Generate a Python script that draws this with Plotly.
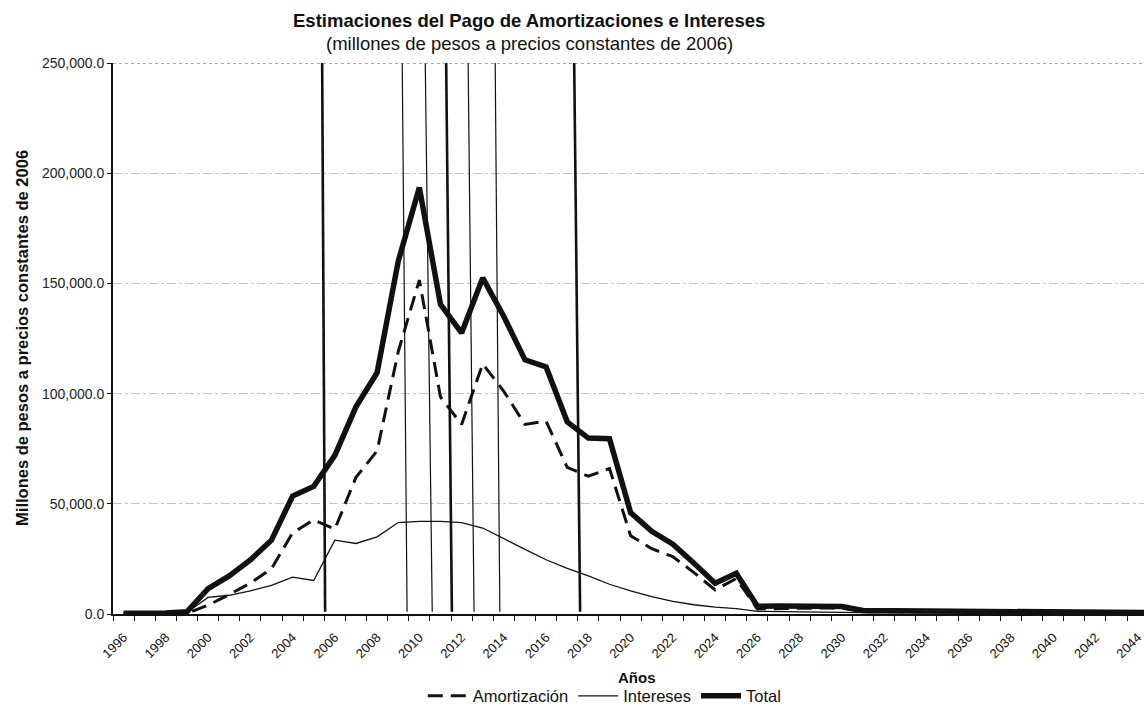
import plotly.graph_objects as go

# ---- data ----
years = list(range(1996, 2046))

amortizacion = [100, 100, 200, 300, 4000, 8800, 14000, 20500, 36800, 42700,
                38500, 62000, 74000, 119000, 151500, 98500, 86000, 113500, 101000, 86000,
                87500, 66500, 62500, 66000, 35500, 29600, 26000, 18800, 10900, 16100,
                2300, 2600, 2600, 2700, 2700, 1000, 1000, 1000, 970, 950,
                950, 950, 920, 930, 920, 930, 920, 400, 400, 400]

intereses = [200, 200, 300, 700, 7500, 8500, 10500, 13000, 16700, 15200,
             33500, 32000, 35000, 41500, 42000, 42000, 41500, 39000, 34000, 29300,
             24600, 20700, 17300, 13500, 10500, 7900, 5700, 4200, 3100, 2400,
             1200, 1000, 900, 800, 700, 600, 550, 500, 480, 450,
             420, 400, 380, 350, 330, 300, 280, 250, 220, 200]

total = [300, 300, 500, 1000, 11500, 17300, 24500, 33500, 53500, 57900,
         72000, 94000, 109500, 160000, 193500, 140500, 127500, 152500, 135000, 115300,
         112100, 87200, 79800, 79500, 46000, 37500, 31700, 23000, 14000, 18500,
         3500, 3600, 3500, 3500, 3400, 1600, 1550, 1500, 1450, 1400,
         1370, 1350, 1300, 1280, 1250, 1230, 1200, 650, 620, 600]

tick_years = list(range(1996, 2045, 2))
tick_text = [str(y) for y in tick_years]

# scan artefacts (vertical lines) seen on the reference: (x at top, x at bottom, width)
scan_lines = [(2005.40, 2005.54, 2.6), (2009.19, 2009.42, 1.2), (2010.28, 2010.61, 1.2),
              (2011.27, 2011.54, 2.6), (2012.31, 2012.59, 1.2), (2013.59, 2013.81, 1.2),
              (2017.33, 2017.61, 2.6)]

FONT = "Arial, 'Liberation Sans', Helvetica, sans-serif"
INK = "#111111"

fig = go.Figure()
fig.add_trace(go.Scatter(x=years, y=amortizacion, name="Amortización", mode="lines",
                         line=dict(color=INK, width=3, dash="15px,8px")))
fig.add_trace(go.Scatter(x=years, y=intereses, name="Intereses", mode="lines",
                         line=dict(color=INK, width=1.3)))
fig.add_trace(go.Scatter(x=years, y=total, name="Total", mode="lines",
                         line=dict(color=INK, width=5.5)))

shapes = []
for x_top, x_bot, w in scan_lines:
    shapes.append(dict(type="line", xref="x", yref="paper", x0=x_bot, x1=x_top, y0=0.004, y1=1,
                       line=dict(color=INK, width=w), layer="above"))
shapes.append(dict(type="line", xref="paper", yref="y", x0=0, x1=1, y0=250000, y1=250000,
                   line=dict(color="#555555", width=1, dash="dot")))

annotations = [
    dict(text="<b>Estimaciones del Pago de Amortizaciones e Intereses</b>", xref="paper", yref="paper",
         x=0.4035, y=1.078, xanchor="center", yanchor="middle", showarrow=False,
         font=dict(size=18.5, color=INK, family=FONT)),
    dict(text="(millones de pesos a precios constantes de 2006)", xref="paper", yref="paper",
         x=0.4035, y=1.036, xanchor="center", yanchor="middle", showarrow=False,
         font=dict(size=18.5, color=INK, family=FONT)),
    dict(text="<b>Años</b>", xref="paper", yref="paper", x=0.508, y=-0.116,
         xanchor="center", yanchor="middle", showarrow=False,
         font=dict(size=15, color=INK, family=FONT)),
    dict(text="<b>Millones de pesos a precios constantes de 2006</b>", xref="paper", yref="paper",
         x=-0.0883, y=0.501, xanchor="center", yanchor="middle", showarrow=False, textangle=-90,
         font=dict(size=16.5, color=INK, family=FONT)),
]

fig.update_layout(
    width=1144, height=706,
    margin=dict(l=113, r=0, t=63, b=92, autoexpand=False),
    paper_bgcolor="white", plot_bgcolor="white",
    font=dict(family=FONT, color=INK, size=12),
    showlegend=True,
    legend=dict(orientation="h", x=0.477, xanchor="center", y=-0.149, yanchor="middle",
                font=dict(size=16.5, color=INK, family=FONT), itemwidth=40,
                bgcolor="rgba(0,0,0,0)"),
    shapes=shapes,
    annotations=annotations,
)

fig.update_xaxes(
    range=[1995.5, 2044.3], automargin=False,
    tickmode="array", tickvals=tick_years, ticktext=tick_text, tickangle=-45,
    ticks="", showgrid=False, zeroline=False, ticklabelstandoff=9, ticklabeloverflow="allow",
    showline=True, linecolor=INK, linewidth=1.5,
    tickfont=dict(size=13, color=INK, family=FONT),
    minor=dict(ticks="outside", tick0=1995.5, dtick=1, ticklen=5, tickcolor=INK, tickwidth=1, showgrid=False),
)
fig.update_yaxes(
    range=[0, 250000], dtick=50000, tickformat=",.1f", automargin=False,
    ticks="outside", ticklen=4, tickcolor=INK,
    showgrid=True, gridcolor="#c4c4c4", gridwidth=1, griddash="dashdot",
    zeroline=False, showline=True, linecolor=INK, linewidth=2,
    tickfont=dict(size=14, color="#222222", family=FONT),
)

fig.write_html("out.html", config={"displayModeBar": False},
               post_script="document.body.style.margin='0px';document.body.style.overflow='hidden';")
